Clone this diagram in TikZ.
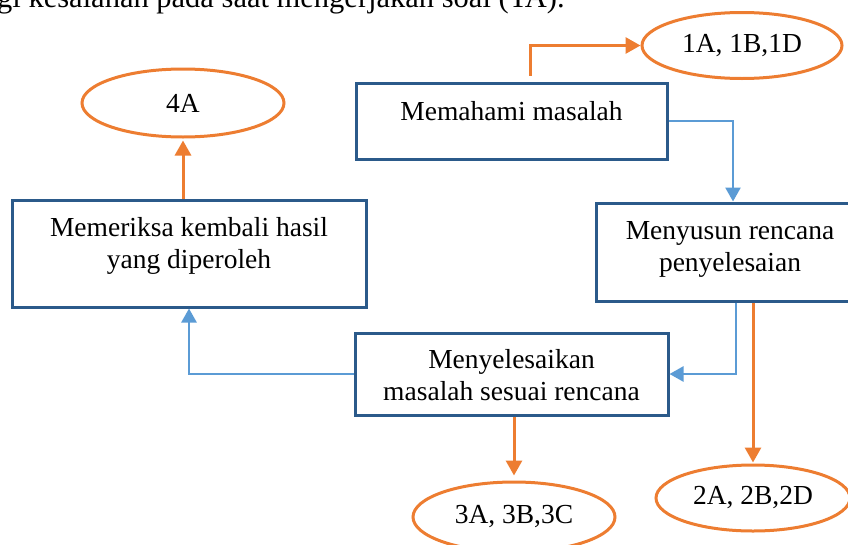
\documentclass[tikz,border=0pt]{standalone}
\usepackage{fontspec}
\setmainfont{Liberation Serif}
\usetikzlibrary{shapes.geometric,arrows.meta,calc}
\definecolor{boxblue}{HTML}{2B5A8A}
\definecolor{orangeline}{HTML}{ED7D31}
\definecolor{blueline}{HTML}{5B9BD5}
\begin{document}
\begin{tikzpicture}[x=1pt,y=-1pt,
  box/.style={draw=boxblue,line width=3pt,rectangle,inner sep=0pt},
  oval/.style={draw=orangeline,line width=3pt,ellipse,inner sep=0pt,font=\fontsize{27.5}{32}\selectfont},
  txt/.style={font=\fontsize{27.5}{32}\selectfont,align=center,inner sep=0pt},
  oarr/.style={draw=orangeline,line width=3pt,-{Triangle[length=15pt,width=16pt]}},
  barr/.style={draw=blueline,line width=2.5pt,-{Triangle[length=14pt,width=15pt]}}]
\useasboundingbox (0,0) rectangle (848,544);

% top (cropped) text line
\node[font=\fontsize{30.5}{36}\selectfont,anchor=base west,inner sep=0pt] (toptext) at (-3,7) {gi kesalahan pada saat mengerjakan soal (TA).};

% boxes
\node[box,minimum width=311,minimum height=76] (m) at (511.5,121) {};
\node[txt,anchor=base] (mt) at (511.5,120) {Memahami masalah};

\node[box,minimum width=268,minimum height=98] (s) at (730,252) {};
\node[txt] (st) at (730,249) {Menyusun rencana\\penyelesaian};

\node[box,minimum width=313,minimum height=82] (r) at (511.5,374) {};
\node[txt] (rt) at (511.5,375.5) {Menyelesaikan\\masalah sesuai rencana};

\node[box,minimum width=354,minimum height=107] (k) at (189,253.5) {};
\node[txt] (kt) at (189,245.5) {Memeriksa kembali hasil\\yang diperoleh};

% ellipses
\node[oval,minimum width=200,minimum height=66] (e1) at (742,45.5) {1A, 1B,1D};
\node[oval,minimum width=202,minimum height=68] (e4) at (183,103) {4A};
\node[oval,minimum width=202,minimum height=70] (e3) at (514,517) {3A, 3B,3C};
\node[oval,minimum width=194,minimum height=66] (e2) at (753,498) {2A, 2B,2D};

% connectors
\draw[oarr] ($(m.north)+(18.5,-6)$) |- (e1.west);
\draw[barr] (m.east) -| ($(s.north)+(3,0)$);
\draw[barr] ($(s.south)+(6,0)$) |- (r.east);
\draw[oarr,shorten >=1pt] ($(s.south)+(23,0)$) -- (e2.north);
\draw[oarr,shorten >=5pt] ($(r.south)+(2.5,0)$) -- (e3.north);
\draw[barr] (r.west) -| (k.south);
\draw[oarr,shorten >=2pt] ($(k.north)+(-6,0)$) -- (e4.south);
\end{tikzpicture}
\end{document}
